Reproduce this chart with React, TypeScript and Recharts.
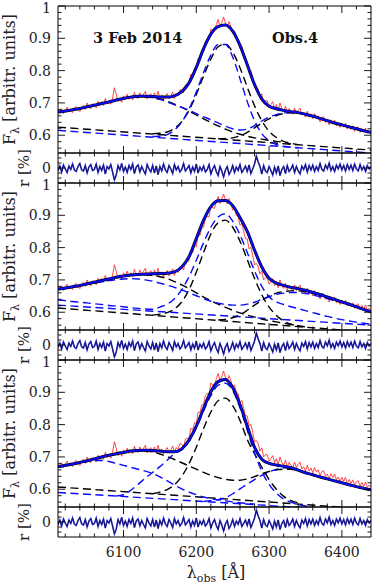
import React from 'react';
import { LineChart, Line, XAxis, YAxis } from 'recharts';

const FONT = '"DejaVu Serif", "Liberation Serif", serif';

// ---------- axes / ticks ----------
const X_DOMAIN: [number, number] = [6010, 6440];
const MAIN_DOMAIN: [number, number] = [0.545, 1.0];
const RES_DOMAIN: [number, number] = [-3, 3];

const xMajorTicks = [6100, 6200, 6300, 6400];
const xMinorTicks = [6020, 6040, 6060, 6080, 6120, 6140, 6160, 6180, 6220, 6240, 6260, 6280, 6320, 6340, 6360, 6380, 6420];
const yMainMajorTicks = [0.6, 0.7, 0.8, 0.9, 1.0];
const yMainMinorTicks = [0.56, 0.58, 0.62, 0.64, 0.66, 0.68, 0.72, 0.74, 0.76, 0.78, 0.82, 0.84, 0.86, 0.88, 0.92, 0.94, 0.96, 0.98];
const yResMajorTicks = [0];
const yResMinorTicks = [-2, -1, 1, 2];

// ---------- wavelength grids ----------
const wave10 = [6010, 6020, 6030, 6040, 6050, 6060, 6070, 6080, 6090, 6100,
  6110, 6120, 6130, 6140, 6150, 6160, 6170, 6180, 6190, 6200,
  6210, 6220, 6230, 6240, 6250, 6260, 6270, 6280, 6290, 6300,
  6310, 6320, 6330, 6340, 6350, 6360, 6370, 6380, 6390, 6400,
  6410, 6420, 6430, 6440];
const wave2p5 = [6010, 6012.5, 6015, 6017.5, 6020, 6022.5, 6025, 6027.5, 6030, 6032.5,
  6035, 6037.5, 6040, 6042.5, 6045, 6047.5, 6050, 6052.5, 6055, 6057.5,
  6060, 6062.5, 6065, 6067.5, 6070, 6072.5, 6075, 6077.5, 6080, 6082.5,
  6085, 6087.5, 6090, 6092.5, 6095, 6097.5, 6100, 6102.5, 6105, 6107.5,
  6110, 6112.5, 6115, 6117.5, 6120, 6122.5, 6125, 6127.5, 6130, 6132.5,
  6135, 6137.5, 6140, 6142.5, 6145, 6147.5, 6150, 6152.5, 6155, 6157.5,
  6160, 6162.5, 6165, 6167.5, 6170, 6172.5, 6175, 6177.5, 6180, 6182.5,
  6185, 6187.5, 6190, 6192.5, 6195, 6197.5, 6200, 6202.5, 6205, 6207.5,
  6210, 6212.5, 6215, 6217.5, 6220, 6222.5, 6225, 6227.5, 6230, 6232.5,
  6235, 6237.5, 6240, 6242.5, 6245, 6247.5, 6250, 6252.5, 6255, 6257.5,
  6260, 6262.5, 6265, 6267.5, 6270, 6272.5, 6275, 6277.5, 6280, 6282.5,
  6285, 6287.5, 6290, 6292.5, 6295, 6297.5, 6300, 6302.5, 6305, 6307.5,
  6310, 6312.5, 6315, 6317.5, 6320, 6322.5, 6325, 6327.5, 6330, 6332.5,
  6335, 6337.5, 6340, 6342.5, 6345, 6347.5, 6350, 6352.5, 6355, 6357.5,
  6360, 6362.5, 6365, 6367.5, 6370, 6372.5, 6375, 6377.5, 6380, 6382.5,
  6385, 6387.5, 6390, 6392.5, 6395, 6397.5, 6400, 6402.5, 6405, 6407.5,
  6410, 6412.5, 6415, 6417.5, 6420, 6422.5, 6425, 6427.5, 6430, 6432.5,
  6435, 6437.5, 6440];
const waveEnds = [6010, 6440];

// ---------- observed spectrum (same observation in all three panels) ----------
const observedFlux = [0.678, 0.668, 0.682, 0.667, 0.677, 0.687, 0.672, 0.681, 0.670, 0.685,
  0.689, 0.679, 0.673, 0.688, 0.692, 0.680, 0.700, 0.687, 0.682, 0.697,
  0.696, 0.685, 0.705, 0.692, 0.704, 0.692, 0.714, 0.698, 0.705, 0.696,
  0.715, 0.747, 0.727, 0.704, 0.716, 0.702, 0.722, 0.712, 0.727, 0.711,
  0.722, 0.710, 0.733, 0.718, 0.714, 0.731, 0.717, 0.727, 0.736, 0.712,
  0.723, 0.729, 0.714, 0.731, 0.714, 0.736, 0.715, 0.725, 0.709, 0.722,
  0.729, 0.712, 0.721, 0.734, 0.714, 0.729, 0.723, 0.741, 0.739, 0.731,
  0.755, 0.757, 0.759, 0.789, 0.784, 0.807, 0.803, 0.838, 0.838, 0.860,
  0.863, 0.890, 0.897, 0.895, 0.929, 0.923, 0.922, 0.942, 0.958, 0.936,
  0.949, 0.966, 0.947, 0.935, 0.952, 0.936, 0.916, 0.923, 0.900, 0.896,
  0.869, 0.875, 0.852, 0.828, 0.827, 0.796, 0.801, 0.775, 0.747, 0.751,
  0.742, 0.718, 0.728, 0.700, 0.707, 0.707, 0.687, 0.695, 0.704, 0.682,
  0.695, 0.676, 0.700, 0.683, 0.674, 0.690, 0.669, 0.683, 0.675, 0.665,
  0.684, 0.667, 0.677, 0.684, 0.663, 0.670, 0.656, 0.674, 0.656, 0.666,
  0.651, 0.667, 0.653, 0.660, 0.641, 0.655, 0.657, 0.640, 0.647, 0.632,
  0.648, 0.636, 0.647, 0.629, 0.638, 0.624, 0.637, 0.625, 0.637, 0.619,
  0.630, 0.618, 0.629, 0.612, 0.623, 0.626, 0.609, 0.621, 0.610, 0.622,
  0.606, 0.613, 0.606];

// residuals [%]
const residual = [-0.5, 0.4, -0.8, 0.6, -0.2, -0.9, 0.4, -0.3, 0.8, -0.4,
  -0.7, 0.3, 0.9, -0.4, -0.6, 0.5, -1.0, 0.2, 0.7, -0.5,
  -0.3, 0.8, -0.9, 0.3, -0.5, 0.6, -1.2, 0.3, -0.2, 0.7,
  -0.8, -2.4, -1.4, 0.5, -0.4, 0.9, -0.7, 0.2, -0.9, 0.5,
  -0.3, 0.8, -1.1, 0.2, 0.6, -0.8, 0.3, -0.5, -1.2, 0.7,
  -0.2, -0.8, 0.5, -1.0, 0.4, -1.3, 0.3, -0.6, 0.8, -0.4,
  -0.9, 0.5, -0.2, -1.1, 0.7, -0.4, 0.3, -0.8, -0.3, 0.9,
  -0.6, -0.1, 0.5, -1.0, 0.2, -0.7, 0.8, -1.0, 0.2, -0.5,
  0.4, -0.8, -0.3, 0.7, -1.2, -0.2, 0.5, -0.7, -1.5, 0.3,
  -0.6, -1.8, -0.4, 0.3, -1.3, -0.6, 0.5, -0.9, 0.2, -0.5,
  0.7, -0.9, -0.3, 0.4, -0.7, 0.6, -1.1, -0.2, 0.8, 2.4,
  1.2, 0.3, -1.2, 0.5, -0.6, -0.9, 0.3, -0.5, -1.4, 0.2,
  -1.0, 0.4, -1.5, -0.3, 0.3, -1.1, 0.5, -0.7, -0.2, 0.6,
  -0.9, 0.3, -0.6, -1.2, 0.4, -0.3, 0.7, -0.8, 0.5, -0.4,
  0.6, -0.7, 0.3, -0.5, 0.9, -0.3, -0.6, 0.6, -0.2, 1.0,
  -0.5, 0.3, -0.7, 0.6, -0.2, 0.8, -0.4, 0.5, -0.6, 0.7,
  -0.3, 0.6, -0.5, 0.8, -0.2, -0.6, 0.7, -0.4, 0.3, -0.7,
  0.5, -0.2, 0.3];

const _ = null;

// ---------- panel 1 model ----------
const fit1 = [0.672, 0.675, 0.679, 0.683, 0.688, 0.693, 0.698, 0.703, 0.709, 0.714,
  0.718, 0.721, 0.721, 0.720, 0.718, 0.718, 0.722, 0.735, 0.762, 0.810,
  0.868, 0.913, 0.936, 0.941, 0.922, 0.878, 0.818, 0.757, 0.712, 0.690,
  0.682, 0.677, 0.673, 0.670, 0.665, 0.659, 0.652, 0.645, 0.638, 0.632,
  0.626, 0.620, 0.614, 0.609];
const contBlack1 = [0.625, 0.554];
const contBlue1 = [0.615, 0.545];
const coreBlack1 = [_, _, _, _, _, _, _, _, _, _,
  _, _, _, 0.605, 0.606, 0.610, 0.621, 0.642, 0.677, 0.726,
  0.783, 0.836, 0.874, 0.882, 0.857, 0.809, 0.749, 0.691, 0.645, 0.612,
  0.593, 0.581, 0.575, 0.571, _, _, _, _, _, _,
  _, _, _, _];
const coreBlue1 = [_, _, _, _, _, _, _, _, _, _,
  _, _, _, 0.596, 0.597, 0.602, 0.616, 0.641, 0.681, 0.734,
  0.794, 0.848, 0.881, 0.881, 0.842, 0.775, 0.704, 0.645, 0.605, 0.583,
  0.571, 0.566, 0.563, 0.561, _, _, _, _, _, _,
  _, _, _, _];
const restBlue1 = [0.671, 0.674, 0.678, 0.682, 0.687, 0.692, 0.697, 0.702, 0.707, 0.712,
  0.716, 0.718, 0.718, 0.716, 0.711, 0.703, 0.694, 0.686, 0.677, 0.667,
  0.657, 0.648, 0.638, 0.628, 0.620, 0.616, 0.619, 0.630, 0.644, 0.656,
  0.664, 0.669, 0.670, 0.668, 0.664, 0.658, 0.651, 0.644, 0.637, 0.631,
  0.625, 0.619, 0.613, 0.608];
const leftBlack1 = [0.671, 0.674, 0.678, 0.682, 0.687, 0.692, 0.697, 0.702, 0.708, 0.713,
  0.717, 0.719, 0.719, 0.717, 0.712, 0.705, 0.696, 0.686, 0.675, 0.663,
  0.651, 0.640, 0.629, 0.619, 0.610, 0.603, 0.597, 0.592, 0.588, 0.584,
  0.581, 0.578, 0.573, _, _, _, _, _, _, _,
  _, _, _, _];
const rightBlack1 = [_, _, _, _, _, _, _, _, _, _,
  _, _, _, _, _, _, _, _, _, _,
  _, _, 0.589, 0.590, 0.592, 0.598, 0.609, 0.623, 0.638, 0.651,
  0.661, 0.667, 0.670, 0.669, 0.665, 0.659, 0.652, 0.645, 0.638, 0.632,
  0.626, 0.620, 0.614, 0.609];

// ---------- panel 2 model ----------
const fit2 = [0.672, 0.675, 0.679, 0.683, 0.688, 0.693, 0.698, 0.703, 0.708, 0.712,
  0.715, 0.717, 0.718, 0.719, 0.720, 0.721, 0.725, 0.740, 0.772, 0.828,
  0.885, 0.927, 0.945, 0.946, 0.930, 0.893, 0.850, 0.792, 0.740, 0.705,
  0.690, 0.683, 0.677, 0.673, 0.668, 0.661, 0.655, 0.647, 0.640, 0.632,
  0.625, 0.617, 0.609, 0.601];
const contBlack2 = [0.613, 0.538];
const contBlue2 = [0.622, 0.560];
const coreBlack2 = [_, _, _, _, _, _, _, _, _, _,
  _, _, _, 0.591, 0.594, 0.599, 0.610, 0.632, 0.670, 0.724,
  0.785, 0.842, 0.877, 0.885, 0.863, 0.820, 0.763, 0.705, 0.654, 0.616,
  0.590, 0.573, 0.563, 0.558, _, _, _, _, _, _,
  _, _, _, _];
const coreBlue2 = [0.638, 0.636, 0.633, 0.631, 0.629, 0.626, 0.624, 0.621, 0.619, 0.617,
  0.614, 0.612, 0.610, 0.609, 0.616, 0.625, 0.642, 0.670, 0.710, 0.761,
  0.815, 0.863, 0.895, 0.905, 0.882, 0.840, 0.785, 0.728, 0.680, 0.648,
  0.632, 0.624, 0.617, 0.611, 0.605, 0.599, 0.593, 0.587, 0.582, 0.577,
  0.573, 0.569, 0.566, 0.563];
const restBlue2 = [0.670, 0.673, 0.677, 0.681, 0.686, 0.690, 0.694, 0.698, 0.701, 0.703,
  0.704, 0.703, 0.700, 0.696, 0.690, 0.684, 0.677, 0.669, 0.660, 0.651,
  0.642, 0.634, 0.628, 0.624, 0.622, 0.622, 0.625, 0.631, 0.640, 0.648,
  0.655, 0.659, 0.661, 0.661, 0.658, 0.654, 0.648, 0.642, 0.636, 0.630,
  0.623, 0.616, 0.609, 0.602];
const leftBlack2 = [0.671, 0.674, 0.678, 0.682, 0.687, 0.692, 0.697, 0.702, 0.707, 0.711,
  0.714, 0.716, 0.716, 0.714, 0.710, 0.704, 0.695, 0.685, 0.673, 0.660,
  0.647, 0.636, 0.625, 0.615, 0.606, 0.598, 0.591, 0.585, 0.579, 0.574,
  0.570, 0.566, 0.562, 0.558, 0.555, _, _, _, _, _,
  _, _, _, _];
const rightBlack2 = [_, _, _, _, _, _, _, _, _, _,
  _, _, _, _, _, _, _, _, _, _,
  _, _, 0.576, 0.578, 0.583, 0.592, 0.606, 0.622, 0.637, 0.650,
  0.659, 0.664, 0.666, 0.666, 0.664, 0.659, 0.653, 0.645, 0.638, 0.630,
  0.623, 0.615, 0.607, 0.599];

// ---------- panel 3 model ----------
const fit3 = [0.670, 0.674, 0.678, 0.683, 0.688, 0.694, 0.700, 0.705, 0.710, 0.714,
  0.718, 0.720, 0.721, 0.720, 0.718, 0.716, 0.716, 0.725, 0.752, 0.795,
  0.850, 0.902, 0.933, 0.940, 0.915, 0.862, 0.795, 0.730, 0.693, 0.680,
  0.675, 0.671, 0.667, 0.659, 0.651, 0.645, 0.638, 0.632, 0.626, 0.620,
  0.614, 0.608, 0.603, 0.598];
const contBlack3 = [0.607, 0.538];
const contBlue3 = [0.590, 0.530];
const coreBlack3 = [_, _, _, _, _, _, _, _, _, _,
  _, _, _, 0.586, 0.591, 0.599, 0.614, 0.640, 0.679, 0.730,
  0.788, 0.839, 0.874, 0.882, 0.859, 0.813, 0.754, 0.710, 0.668, 0.630,
  0.600, 0.578, 0.565, 0.558, _, _, _, _, _, _,
  _, _, _, _];
const coreBlue3 = [_, _, _, _, _, _, _, _, 0.579, 0.583,
  0.597, 0.615, 0.635, 0.652, 0.670, 0.690, 0.710, 0.722, 0.748, 0.790,
  0.843, 0.890, 0.922, 0.928, 0.905, 0.852, 0.783, 0.712, 0.655, 0.615,
  0.588, 0.570, 0.560, 0.553, 0.548, 0.545, _, _, _, _,
  _, _, _, _];
const leftBlue3 = [0.668, 0.672, 0.677, 0.682, 0.686, 0.689, 0.689, 0.686, 0.680, 0.674,
  0.668, 0.662, 0.656, 0.649, 0.638, 0.626, 0.613, 0.601, 0.591, 0.583,
  0.576, 0.571, 0.567, 0.564, 0.561, 0.558, 0.556, 0.554, _, _,
  _, _, _, _, _, _, _, _, _, _,
  _, _, _, _];
const rightBlue3 = [_, _, _, _, _, _, _, _, _, _,
  _, _, _, _, _, _, _, _, _, _,
  0.562, 0.565, 0.568, 0.574, 0.586, 0.601, 0.616, 0.630, 0.643, 0.654,
  0.661, 0.666, 0.665, 0.658, 0.650, 0.644, 0.637, 0.631, 0.625, 0.619,
  0.613, 0.607, 0.602, 0.597];
const restBlack3 = [0.669, 0.673, 0.677, 0.682, 0.687, 0.693, 0.699, 0.704, 0.709, 0.713,
  0.716, 0.718, 0.718, 0.715, 0.709, 0.701, 0.692, 0.682, 0.672, 0.662,
  0.652, 0.643, 0.636, 0.631, 0.628, 0.628, 0.632, 0.639, 0.648, 0.655,
  0.660, 0.662, 0.662, 0.657, 0.650, 0.644, 0.637, 0.631, 0.625, 0.619,
  0.613, 0.607, 0.602, 0.597];

// ---------- styling ----------
const RED = '#ff1a1a';
const BLUE = '#0a0aff';
const BLACK = '#000000';
const DASH = '8 4.5';
const TICK_FONT = 14;

type S = { xs: number[]; ys: (number | null)[]; color: string; width: number; dash?: string; curve?: 'monotone' | 'linear'; opacity?: number };

const pts = (xs: number[], ys: (number | null)[]) => xs.map((x, i) => ({ x, y: ys[i] }));

function makeTick(side: 'left' | 'right' | 'top' | 'bottom', majors: number[], fmt: ((v: number) => string) | null) {
  return (props: any) => {
    const { x, y, payload } = props;
    const v = payload.value;
    const major = majors.some((m) => Math.abs(m - v) < 1e-6);
    const len = major ? 7 : 3.5;
    let x2 = x;
    let y2 = y;
    if (side === 'left') x2 = x + len;
    else if (side === 'right') x2 = x - len;
    else if (side === 'top') y2 = y + len;
    else y2 = y - len;
    let label: any = null;
    if (fmt && major) {
      if (side === 'left') {
        const shift = Math.abs(v - 1) < 1e-6 ? 2 : 0;
        label = (
          <text x={x - 7} y={y + shift} dy="0.36em" textAnchor="end" fontFamily={FONT} fontSize={TICK_FONT} fill="#222">{fmt(v)}</text>
        );
      } else if (side === 'bottom') {
        label = (
          <text x={x} y={y + 20} textAnchor="middle" fontFamily={FONT} fontSize={TICK_FONT} fill="#222">{fmt(v)}</text>
        );
      }
    }
    return (
      <g>
        <line x1={x} y1={y} x2={x2} y2={y2} stroke="#000" strokeWidth={0.9} />
        {label}
      </g>
    );
  };
}

const fmtMain = (v: number) => (Math.abs(v - 1) < 1e-6 ? '1' : v.toFixed(1));
const fmtRes = (v: number) => String(Math.round(v));
const fmtX = (v: number) => String(v);

const PAD = 9; // room above/below each plot so edge labels are not cut

function Panel(props: {
  top: number; height: number; domain: [number, number];
  yMajors: number[]; yMinors: number[]; yFmt: (v: number) => string;
  series: S[]; xLabels: boolean;
}) {
  const { top, height, domain, yMajors, yMinors, yFmt, series, xLabels } = props;
  const extra = xLabels ? 30 : 0;
  const chartH = height + 2 + extra + PAD * 2;
  const xTicks = [...xMajorTicks, ...xMinorTicks];
  const yTicks = [...yMajors, ...yMinors];
  return (
    <div style={{ position: 'absolute', left: 0, top: top - 1 - PAD }}>
      <LineChart width={374} height={chartH} margin={{ top: PAD, right: 2, bottom: PAD, left: 0 }}>
        <XAxis xAxisId="b" type="number" dataKey="x" domain={X_DOMAIN} allowDataOverflow ticks={xTicks} interval={0}
          tickSize={0} tickMargin={0} height={1 + extra} axisLine={{ stroke: '#000', strokeWidth: 1 }} tickLine={false}
          tick={makeTick('bottom', xMajorTicks, xLabels ? fmtX : null)} />
        <XAxis xAxisId="t" orientation="top" type="number" dataKey="x" domain={X_DOMAIN} allowDataOverflow ticks={xTicks} interval={0}
          tickSize={0} tickMargin={0} height={1} axisLine={{ stroke: '#000', strokeWidth: 1 }} tickLine={false}
          tick={makeTick('top', xMajorTicks, null)} />
        <YAxis yAxisId="l" type="number" domain={domain} allowDataOverflow ticks={yTicks} interval={0}
          tickSize={0} tickMargin={0} width={58} axisLine={{ stroke: '#000', strokeWidth: 1 }} tickLine={false}
          tick={makeTick('left', yMajors, yFmt)} />
        <YAxis yAxisId="r" orientation="right" type="number" domain={domain} allowDataOverflow ticks={yTicks} interval={0}
          tickSize={0} tickMargin={0} width={1} axisLine={{ stroke: '#000', strokeWidth: 1 }} tickLine={false}
          tick={makeTick('right', yMajors, null)} />
        {series.map((s, i) => (
          <Line key={i} xAxisId="b" yAxisId="l" data={pts(s.xs, s.ys)} dataKey="y" type={s.curve || 'monotone'}
            stroke={s.color} strokeWidth={s.width} strokeDasharray={s.dash} strokeOpacity={s.opacity ?? 1}
            dot={false} activeDot={false} isAnimationActive={false} connectNulls={false} />
        ))}
      </LineChart>
    </div>
  );
}

function mainSeries(fit: number[], comps: S[]): S[] {
  return [
    { xs: wave2p5, ys: observedFlux, color: RED, width: 0.8, curve: 'linear' },
    ...comps,
    { xs: wave10, ys: fit, color: BLACK, width: 3.0 },
    { xs: wave10, ys: fit, color: BLUE, width: 1.9 },
  ];
}

const resSeries: S[] = [
  { xs: wave2p5, ys: residual, color: '#3535ff', width: 1.6, curve: 'linear' },
  { xs: wave2p5, ys: residual, color: '#101030', width: 0.8, curve: 'linear' },
];

const dk = (ys: (number | null)[], xs: number[] = wave10): S => ({ xs, ys, color: BLACK, width: 1.4, dash: DASH, curve: xs === waveEnds ? 'linear' : 'monotone' });
const db = (ys: (number | null)[], xs: number[] = wave10): S => ({ xs, ys, color: BLUE, width: 1.4, dash: DASH, curve: xs === waveEnds ? 'linear' : 'monotone' });

const panel1 = mainSeries(fit1, [
  dk(contBlack1, waveEnds), db(contBlue1, waveEnds),
  dk(coreBlack1), db(coreBlue1), dk(leftBlack1), dk(rightBlack1), db(restBlue1),
]);
const panel2 = mainSeries(fit2, [
  dk(contBlack2, waveEnds), db(contBlue2, waveEnds),
  dk(coreBlack2), db(coreBlue2), dk(leftBlack2), dk(rightBlack2), db(restBlue2),
]);
const panel3 = mainSeries(fit3, [
  dk(contBlack3, waveEnds), db(contBlue3, waveEnds),
  dk(coreBlack3), db(coreBlue3), db(leftBlue3), db(rightBlue3), dk(restBlack3),
]);

const MAIN_TOPS = [6, 183, 360];
const MAIN_H = 147;
const RES_H = 30;

function YTitleF({ cy }: { cy: number }) {
  return (
    <text transform={`translate(15, ${cy}) rotate(-90)`} textAnchor="middle" fontFamily={FONT} fontSize={16} fill="#222">
      F<tspan dy={4} fontSize={11}>λ</tspan><tspan dy={-4}> [arbitr. units]</tspan>
    </text>
  );
}
function YTitleR({ cy }: { cy: number }) {
  return (
    <text transform={`translate(29, ${cy}) rotate(-90)`} textAnchor="middle" fontFamily={FONT} fontSize={15} fill="#222">
      r [%]
    </text>
  );
}

export default function App() {
  const mains = [panel1, panel2, panel3];
  return (
    <div style={{ position: 'absolute', left: 0, top: 0, width: 374, height: 584, background: '#fff', overflow: 'hidden' }}>
      {MAIN_TOPS.map((t, i) => (
        <React.Fragment key={i}>
          <Panel top={t} height={MAIN_H} domain={MAIN_DOMAIN} yMajors={yMainMajorTicks} yMinors={yMainMinorTicks}
            yFmt={fmtMain} series={mains[i]} xLabels={false} />
          <Panel top={t + MAIN_H} height={RES_H} domain={RES_DOMAIN} yMajors={yResMajorTicks} yMinors={yResMinorTicks}
            yFmt={fmtRes} series={resSeries} xLabels={i === 2} />
        </React.Fragment>
      ))}
      <svg width={374} height={584} style={{ position: 'absolute', left: 0, top: 0, pointerEvents: 'none' }}>
        <text x={93} y={43} fontFamily={FONT} fontWeight="bold" fontSize={14.5} fill="#111">3 Feb 2014</text>
        <text x={272} y={43} fontFamily={FONT} fontWeight="bold" fontSize={14.5} fill="#111">Obs.4</text>
        {MAIN_TOPS.map((t, i) => (
          <React.Fragment key={i}>
            <YTitleF cy={t + MAIN_H / 2} />
            <YTitleR cy={t + MAIN_H + RES_H / 2} />
          </React.Fragment>
        ))}
        <text x={216} y={578} textAnchor="middle" fontFamily={FONT} fontSize={16} fill="#222">
          λ<tspan dy={4} fontSize={11}>obs</tspan><tspan dy={-4}> [Å]</tspan>
        </text>
      </svg>
    </div>
  );
}
